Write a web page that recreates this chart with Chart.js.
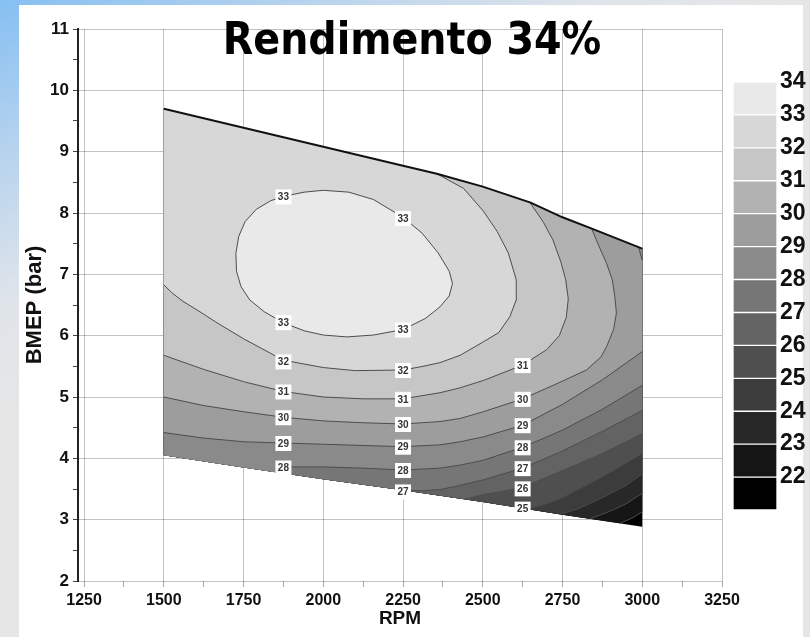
<!DOCTYPE html>
<html>
<head>
<meta charset="utf-8">
<script src="https://cdn.jsdelivr.net/npm/chart.js@4.4.1/dist/chart.umd.min.js"></script>
<style>
  html, body { margin: 0; padding: 0; }
  body {
    width: 810px; height: 637px; overflow: hidden; position: relative;
    background: linear-gradient(153deg, #85bff2 0%, #b4d2ee 14%, #dfe4ea 29%, #e6e6e6 40%, #e6e6e6 100%);
  }
  #panel { position: absolute; left: 19px; top: 5px; width: 784px; height: 632px; background: #fff; }
  #main { position: absolute; left: 0; top: 0; }
  #bar { position: absolute; left: 725px; top: 60px; }
  #title {
    position: absolute; left: 0; top: 17px; width: 824px; text-align: center;
    font-family: "DejaVu Sans Condensed", "DejaVu Sans", sans-serif; font-stretch: condensed;
    font-weight: bold; font-size: 44px; line-height: 44px; color: #000;
  }
</style>
</head>
<body>
<div id="panel"></div>
<canvas id="main" width="810" height="637"></canvas>
<canvas id="bar" width="85" height="470"></canvas>
<div id="title">Rendimento 34%</div>
<script>
// domain of the map (RPM, BMEP)
const topEdge = [[1500, 9.70], [1750, 9.39], [2000, 9.08], [2250, 8.77], [2356, 8.64], [2500, 8.43],
                 [2650, 8.17], [2750, 7.93], [2850, 7.73], [3000, 7.42]];
const bottomEdge = [[1500, 4.05], [1750, 3.85], [2000, 3.66], [2250, 3.48], [2500, 3.29], [2750, 3.08], [3000, 2.885]];

// iso-efficiency lines, from the lower/left end to the right/top end
const c22 = [[2930, 2.94], [2970, 3.03], [3000, 3.13]];
const c23 = [[2836, 3.013], [2900, 3.14], [2950, 3.26], [3000, 3.43]];
const c24 = [[2742, 3.087], [2800, 3.18], [2875, 3.36], [2950, 3.56], [3000, 3.75]];
const c25 = [[2640, 3.172], [2700, 3.26], [2750, 3.36], [2875, 3.70], [3000, 4.08]];
const c26 = [[2445, 3.332], [2502, 3.41], [2560, 3.46], [2625, 3.53], [2750, 3.80], [2875, 4.08], [3000, 4.40]];
const c27 = [[2230, 3.495], [2300, 3.47], [2366, 3.49], [2429, 3.56], [2502, 3.65], [2625, 3.84],
             [2750, 4.12], [2875, 4.44], [3000, 4.78]];
const c28 = [[1860, 3.766], [1900, 3.86], [2000, 3.86], [2125, 3.84], [2250, 3.81], [2366, 3.84], [2429, 3.89],
             [2502, 3.97], [2625, 4.18], [2750, 4.46], [2875, 4.80], [3000, 5.19]];
const c29 = [[1500, 4.42], [1625, 4.33], [1750, 4.27], [1875, 4.25], [2000, 4.23], [2125, 4.21], [2250, 4.19],
             [2366, 4.22], [2429, 4.27], [2502, 4.35], [2625, 4.54], [2750, 4.88], [2875, 5.28], [3000, 5.74]];
const c29corner = [[2988, 7.445], [3000, 7.23]];
const c30 = [[1500, 5.00], [1625, 4.86], [1750, 4.76], [1875, 4.67], [2000, 4.61], [2125, 4.58], [2250, 4.56],
             [2366, 4.60], [2429, 4.65], [2502, 4.76], [2625, 4.97], [2725, 5.20], [2825, 5.44], [2870, 5.65],
             [2888, 5.82], [2910, 6.10], [2919, 6.37], [2914, 6.64], [2906, 6.91], [2888, 7.18], [2865, 7.45], [2841, 7.75]];
const c31 = [[1500, 5.68], [1625, 5.45], [1750, 5.25], [1875, 5.09], [2000, 5.00], [2125, 4.97], [2250, 4.97],
             [2366, 5.07], [2429, 5.15], [2502, 5.27], [2625, 5.52], [2700, 5.77], [2740, 6.00], [2762, 6.30],
             [2768, 6.60], [2760, 6.91], [2745, 7.20], [2720, 7.56], [2690, 7.85], [2648, 8.17]];
const c32 = [[1500, 6.83], [1525, 6.70], [1560, 6.56], [1610, 6.40], [1670, 6.20], [1750, 5.95], [1875, 5.60],
             [2000, 5.48], [2100, 5.43], [2250, 5.44], [2303, 5.49], [2366, 5.56], [2429, 5.68], [2502, 5.90],
             [2550, 6.05], [2585, 6.31], [2606, 6.60], [2605, 6.91], [2580, 7.35], [2545, 7.70], [2502, 8.03],
             [2440, 8.40], [2356, 8.64]];
const c33 = [[1726, 7.34], [1735, 7.62], [1755, 7.86], [1790, 8.06], [1835, 8.20], [1875, 8.27], [1940, 8.34],
             [2000, 8.37], [2080, 8.34], [2157, 8.22], [2250, 7.93], [2310, 7.67], [2360, 7.35], [2395, 7.05],
             [2405, 6.85], [2395, 6.65], [2366, 6.47], [2320, 6.28], [2250, 6.10], [2157, 6.01], [2074, 5.98],
             [2000, 6.01], [1940, 6.08], [1875, 6.21], [1815, 6.39], [1770, 6.58], [1742, 6.80], [1728, 7.05]];

// contour levels and colour bands (band 0 = below 22, band 12 = 33..34)
const levels = [22, 23, 24, 25, 26, 27, 28, 29, 30, 31, 32, 33];
const contours = [c22, c23, c24, c25, c26, c27, c28, c29, c30, c31, c32, c33];
const cbMin = 21, cbMax = 34;
const bandColors = ['#000000', '#151515', '#282828', '#3c3c3c', '#4f4f4f', '#636363', '#767676',
                    '#8a8a8a', '#9d9d9d', '#b2b2b2', '#c6c6c6', '#d7d7d7', '#e9e9e9'];

// inline labels on the lines
const labelLevels = [33, 33, 33, 33, 32, 32, 31, 31, 31, 30, 30, 30, 29, 29, 29, 28, 28, 28, 27, 27, 26, 25];
const labelRpm    = [1875, 2250, 1875, 2250, 1875, 2250, 1875, 2250, 2625, 1875, 2250, 2625,
                     1875, 2250, 2625, 1875, 2250, 2625, 2250, 2625, 2625, 2625];
const labelBmep   = [8.27, 7.92, 6.22, 6.10, 5.58, 5.44, 5.09, 4.97, 5.52, 4.67, 4.56, 4.97,
                     4.25, 4.19, 4.54, 3.85, 3.81, 4.18, 3.46, 3.84, 3.51, 3.18];

const FONT = '"Liberation Sans", Arial, sans-serif';
const GRID = 'rgba(0,0,0,0.24)';

const toXY = pts => pts.map(p => ({x: p[0], y: p[1]}));

// polygon of the area where efficiency >= level of contour c
function region(c, cut) {
  const start = c[0], end = c[c.length - 1];
  let upper;
  if (cut) upper = topEdge.filter(p => p[0] < cut[0][0]).concat(cut);
  else upper = end[0] >= 3000 ? topEdge.slice() : topEdge.filter(p => p[0] < end[0]);
  const lower = bottomEdge.filter(p => p[0] < start[0]).reverse();
  return upper.concat(c.slice().reverse(), lower);
}

function fillSet(poly, color, order) {
  return {data: toXY(poly), showLine: true, fill: 'shape', backgroundColor: color,
          borderColor: 'transparent', borderWidth: 0, pointRadius: 0, order: order};
}
function lineSet(pts, color, width, order) {
  return {data: toXY(pts), showLine: true, fill: false, borderColor: color,
          borderWidth: width, pointRadius: 0, order: order};
}

const datasets = [];
datasets.push(fillSet(topEdge.concat(bottomEdge.slice().reverse()), bandColors[0], 100));
levels.forEach((lv, k) => {
  let poly;
  if (lv === 33) poly = c33;
  else if (lv === 29) poly = region(c29, c29corner);
  else poly = region(contours[k]);
  datasets.push(fillSet(poly, bandColors[k + 1], 99 - k));
});
contours.forEach(c => {
  datasets.push(lineSet(c === c33 ? c.concat([c[0]]) : c, '#4d4d4d', 1, 10));
});
datasets.push(lineSet(c29corner, '#4d4d4d', 1, 10));
datasets.push(lineSet(topEdge, '#111', 2, 0));

const labelPlugin = {
  id: 'contourLabels',
  afterDraw(chart) {
    const {ctx, scales: {x, y}} = chart;
    ctx.save();
    ctx.font = 'bold 10px ' + FONT;
    ctx.textAlign = 'center';
    ctx.textBaseline = 'middle';
    labelLevels.forEach((lv, i) => {
      const px = x.getPixelForValue(labelRpm[i]);
      const py = y.getPixelForValue(labelBmep[i]);
      ctx.fillStyle = '#fff';
      ctx.fillRect(px - 8, py - 7, 16, 15);
      ctx.fillStyle = '#333';
      ctx.fillText(String(lv), px, py + 1);
    });
    ctx.restore();
  }
};

new Chart(document.getElementById('main'), {
  type: 'scatter',
  data: {datasets: datasets},
  options: {
    responsive: false,
    animation: false,
    layout: {padding: {left: 0, right: 88, top: 29, bottom: 0}},
    plugins: {legend: {display: false}, tooltip: {enabled: false}},
    scales: {
      x: {
        type: 'linear', min: 1231, max: 3250, z: 1,
        ticks: {
          stepSize: 125, includeBounds: false, autoSkip: false, maxRotation: 0, padding: 4,
          color: '#111', font: {family: FONT, size: 16, weight: 'bold'},
          callback: v => (v % 250 === 0 ? v : '')
        },
        grid: {
          color: ctx => (ctx.tick && ctx.tick.value % 250 === 0 ? GRID : 'transparent'),
          tickColor: '#aaa', tickLength: 6
        },
        border: {display: false},
        title: {display: true, text: 'RPM', color: '#111',
                font: {family: FONT, size: 19, weight: 'bold'}, padding: {top: 0, bottom: 7}},
        afterFit: s => { s.height = 56; }
      },
      y: {
        min: 2, max: 11, z: 1,
        ticks: {
          stepSize: 0.5, autoSkip: false, padding: 4,
          color: '#111', font: {family: FONT, size: 17, weight: 'bold'},
          callback: v => (Number.isInteger(v) ? v : '')
        },
        grid: {
          color: ctx => (ctx.tick && Number.isInteger(ctx.tick.value) ? GRID : 'transparent'),
          tickColor: '#444', tickLength: 5
        },
        border: {color: '#222', width: 2},
        title: {display: true, text: 'BMEP (bar)', color: '#111',
                font: {family: FONT, size: 22, weight: 'bold'},
                padding: {top: 22, bottom: 0}},
        afterFit: s => { s.width = 78; }
      }
    }
  },
  plugins: [labelPlugin]
});

// colour scale
const bandEdges = [cbMin].concat(levels, [cbMax]);
new Chart(document.getElementById('bar'), {
  type: 'bar',
  data: {
    labels: [''],
    datasets: bandColors.map((c, i) => ({
      data: [[bandEdges[i], bandEdges[i + 1]]],
      backgroundColor: c,
      borderColor: 'rgba(255,255,255,0.45)',
      borderWidth: 1,
      borderSkipped: false
    }))
  },
  options: {
    responsive: false,
    animation: false,
    layout: {padding: {left: 8, right: 0, top: 22, bottom: 20}},
    datasets: {bar: {grouped: false, barPercentage: 1, categoryPercentage: 1}},
    plugins: {legend: {display: false}, tooltip: {enabled: false}},
    scales: {
      x: {display: false},
      y: {
        position: 'right', min: cbMin, max: cbMax,
        ticks: {stepSize: 1, padding: 3, color: '#111', font: {family: FONT, size: 23, weight: 'bold'},
                callback: v => (v > cbMin ? v : '')},
        grid: {display: false, drawTicks: false},
        border: {display: false},
        afterFit: s => { s.width = 33; }
      }
    }
  }
});
</script>
</body>
</html>
